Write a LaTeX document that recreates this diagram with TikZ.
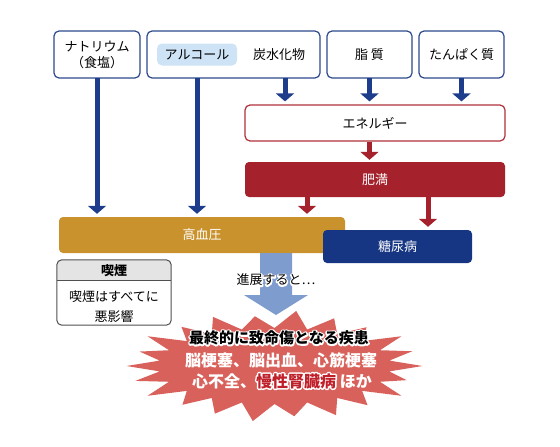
\documentclass[tikz,border=0pt]{standalone}
\usepackage{fontspec}
\setmainfont{Noto Sans CJK JP}
\usetikzlibrary{arrows.meta, positioning, calc}

\definecolor{navyline}{HTML}{2D4A8C}
\definecolor{navyarrow}{HTML}{1E3C8C}
\definecolor{hilite}{HTML}{CFE3F7}
\definecolor{redline}{HTML}{B0303A}
\definecolor{obesered}{HTML}{A5212C}
\definecolor{hbpgold}{HTML}{C9922C}
\definecolor{dmnavy}{HTML}{163583}
\definecolor{smokegrey}{HTML}{E4E4E4}
\definecolor{smokeline}{HTML}{505050}
\definecolor{flowblue}{HTML}{7E9CCD}
\definecolor{burstred}{HTML}{D8625B}
\definecolor{kidneyred}{HTML}{C0202A}

% white outline under the text
\newcommand\halo[2]{\leavevmode\rlap{\special{pdf:literal direct 1 Tr 3 w 1 J 1 j 1 1 1 RG}#2\special{pdf:literal direct 0 Tr}}\textcolor{#1}{#2}}

\begin{document}
\begin{tikzpicture}[
        x=1pt, y=-1pt,
        font=\fontsize{13}{16}\selectfont,
        topbox/.style={draw=navyline, line width=1.2pt, rounded corners=5pt, fill=white, minimum height=47pt, inner sep=0pt, outer sep=0pt, align=center},
        bar/.style={rounded corners=4pt, inner sep=0pt, text=white},
        bluearrow/.style={draw=navyarrow, line width=5pt, -{Triangle[width=18pt,length=8pt]}, shorten >=3pt},
        redarrow/.style={draw=obesered, line width=5pt, -{Triangle[width=18pt,length=8pt]}, shorten >=3pt}
    ]
        \useasboundingbox (0,0) rectangle (560,447);

        % Causes (top row)
        \node (na) [topbox, minimum width=86pt] at (97,54.5) {ナトリウム\\（食塩）};
        \node (mix) [topbox, minimum width=173pt, right=7pt of na] {};
        \node (fat) [topbox, minimum width=85pt, right=7pt of mix] {脂 質};
        \node (prot) [topbox, minimum width=85pt, right=7pt of fat] {たんぱく質};
        \node (alc) [fill=hilite, rounded corners=5pt, minimum width=80pt, minimum height=22pt, inner sep=0pt] at ([xshift=-36.5pt]mix.center) {アルコール};
        \node (carb) at ([xshift=45.5pt]mix.center) {炭水化物};

        % Energy and obesity
        \node (energy) [draw=redline, line width=1.2pt, rounded corners=5pt, fill=white, minimum width=260pt, minimum height=36pt, inner sep=0pt] at (375,123) {エネルギー};
        \node (obese) [bar, fill=obesered, minimum width=260pt, minimum height=35pt] at (375,179.5) {肥満};

        % Diseases
        \node (hbp) [bar, fill=hbpgold, minimum width=286pt, minimum height=36pt] at (202,235) {高血圧};
        \node (dm) [bar, fill=dmnavy, minimum width=149pt, minimum height=33pt] at (397.5,246.5) {糖尿病};

        % Connections
        \coordinate (carb out) at ($(carb |- mix.south)+(6,0)$);
        \coordinate (obese hbp) at ($(obese.south)+(-68,0)$);
        \coordinate (obese dm) at ($(obese.south)+(53,0)$);
        \draw [bluearrow] (na.south) -- (na.south |- hbp.north);
        \draw [bluearrow] (alc |- mix.south) -- (alc |- hbp.north);
        \draw [bluearrow] (carb out) -- (carb out |- energy.north);
        \draw [bluearrow] (fat.south) -- (fat.south |- energy.north);
        \draw [bluearrow] (prot.south) -- (prot.south |- energy.north);
        \draw [redarrow, shorten >=2pt] (fat.south |- energy.south) -- (fat.south |- obese.north);
        \draw [redarrow] (obese hbp) -- (obese hbp |- hbp.north);
        \draw [redarrow] (obese dm) -- (obese dm |- dm.north);

        % Smoking
        \node (smoke) [minimum width=114pt, minimum height=65pt, inner sep=0pt] at (114,292.5) {};
        \begin{scope}
            \clip [rounded corners=5pt] (smoke.north west) rectangle (smoke.south east);
            \fill [smokegrey] (smoke.north west) rectangle ([yshift=-21pt]smoke.north east);
        \end{scope}
        \draw [smokeline, line width=1pt] ([yshift=-21pt]smoke.north west) -- ([yshift=-21pt]smoke.north east);
        \draw [smokeline, line width=1pt, rounded corners=5pt] (smoke.north west) rectangle (smoke.south east);
        \node (smoke title) at ([yshift=-10.5pt]smoke.north) {\textbf{喫煙}};
        \node (smoke text) [align=center, font=\fontsize{13}{20}\selectfont] at ([yshift=-47pt]smoke.north) {喫煙はすべてに\\悪影響};

        % Fatal diseases (burst)
        \coordinate (burst) at (274.5,366);
        \fill [burstred] ($(burst)+(0:148 and 54)$)
            \foreach \k/\f in {0/0.93,1/1.02,2/0.96,3/1.0,4/0.94,5/1.03,6/0.97,7/0.95,8/1.02,9/0.98,10/1.0,11/0.95,12/1.02,13/0.96,14/1.0,15/0.93,16/1.03,17/0.97,18/0.95,19/1.02,20/0.97,21/1.0}
            { -- ($(burst)+({\k*360/22+360/44}:116 and 38)$) -- ($(burst)+({(\k+1)*360/22}:{148*\f} and {54*\f})$) } -- cycle;

        % Progression arrow
        \coordinate (flow) at (276,253);
        \fill [flowblue] (flow) ++(-16,0) -- ++(32,0) -- ++(0,42) -- ++(16,0) -- ++(-32,20) -- ++(-32,-20) -- ++(16,0) -- cycle;
        \node (progress) at (276,280) {\halo{black}{進展すると…}};

        \node (fatal) [font=\fontsize{15}{18}\selectfont\bfseries] at (279,338) {\halo{black}{最終的に致命傷となる疾患}};
        \node (fatal list) [font=\fontsize{16}{19}\selectfont\bfseries, text=white] at (281,360) {脳梗塞、脳出血、心筋梗塞};
        \node (fatal more) [font=\fontsize{16}{19}\selectfont\bfseries, text=white] at (282,381) {心不全、\halo{kidneyred}{慢性腎臓病} ほか};
    \end{tikzpicture}
\end{document}
